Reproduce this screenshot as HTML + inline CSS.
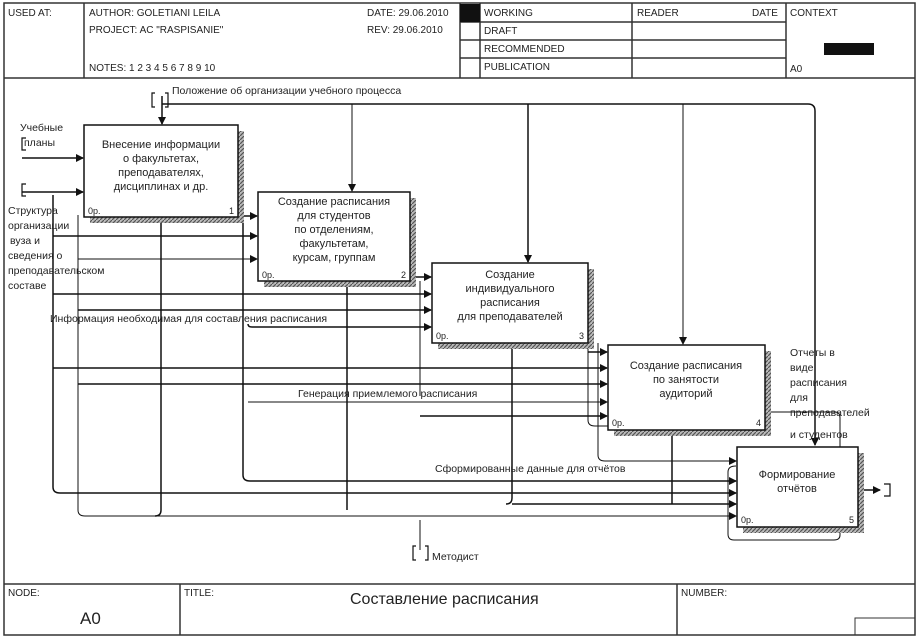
<!DOCTYPE html>
<html><head><meta charset="utf-8"><style>
html,body{margin:0;padding:0;background:#fff}
svg{display:block}
text{font-family:"Liberation Sans","DejaVu Sans",sans-serif;fill:#222}
</style></head><body>
<svg width="920" height="640" viewBox="0 0 920 640" xmlns="http://www.w3.org/2000/svg">
<defs>
<marker id="a" markerWidth="8" markerHeight="8" refX="7" refY="4" orient="auto" markerUnits="userSpaceOnUse"><path d="M0,0 L8,4 L0,8 z" fill="#111"/></marker>
<pattern id="h" width="4" height="4" patternUnits="userSpaceOnUse"><rect width="4" height="4" fill="#bbb"/><path d="M0,4 L4,0" stroke="#555" stroke-width="1.2"/></pattern>
</defs>
<rect x="0" y="0" width="920" height="640" fill="#fff"/>
<!-- frame -->
<g stroke="#333" fill="none" stroke-width="1.5">
<rect x="4" y="3" width="911" height="632"/>
<line x1="4" y1="78" x2="915" y2="78"/>
<line x1="4" y1="584" x2="915" y2="584"/>
<line x1="84" y1="3" x2="84" y2="78"/>
<line x1="460" y1="3" x2="460" y2="78"/>
<line x1="480" y1="3" x2="480" y2="78"/>
<line x1="632" y1="3" x2="632" y2="78"/>
<line x1="786" y1="3" x2="786" y2="78"/>
<line x1="460" y1="22" x2="786" y2="22"/>
<line x1="460" y1="40" x2="786" y2="40"/>
<line x1="460" y1="58" x2="786" y2="58"/>
<line x1="180" y1="584" x2="180" y2="635"/>
<line x1="677" y1="584" x2="677" y2="635"/>
<rect x="855" y="618" width="60" height="17" stroke-width="1"/>
</g>
<rect x="460" y="4" width="20" height="18" fill="#111"/>
<rect x="824" y="43" width="50" height="12" fill="#111"/>
<g font-size="10">
<text x="8" y="16">USED AT:</text>
<text x="89" y="16">AUTHOR:  GOLETIANI LEILA</text>
<text x="89" y="33">PROJECT:  AC "RASPISANIE"</text>
<text x="367" y="16">DATE: 29.06.2010</text>
<text x="367" y="33">REV:  29.06.2010</text>
<text x="89" y="71">NOTES:  1 2 3 4 5 6 7 8 9 10</text>
<text x="484" y="16">WORKING</text>
<text x="484" y="34">DRAFT</text>
<text x="484" y="52">RECOMMENDED</text>
<text x="484" y="70">PUBLICATION</text>
<text x="637" y="16">READER</text>
<text x="752" y="16">DATE</text>
<text x="790" y="16">CONTEXT</text>
<text x="790" y="72">A0</text>
<text x="8" y="596">NODE:</text>
<text x="184" y="596">TITLE:</text>
<text x="681" y="596">NUMBER:</text>
</g>
<text x="80" y="624" font-size="17">A0</text>
<text x="350" y="604" font-size="16">Составление расписания</text>

<!-- connectors -->
<g stroke="#111" fill="none" stroke-width="1.5">
<!-- control top -->
<path d="M162,104 H808 Q815,104 815,111 V445" marker-end="url(#a)"/>
<line x1="162" y1="96" x2="162" y2="124" marker-end="url(#a)"/>
<line x1="352" y1="104" x2="352" y2="191" stroke-width="1" marker-end="url(#a)"/>
<line x1="528" y1="104" x2="528" y2="262" marker-end="url(#a)"/>
<line x1="683" y1="104" x2="683" y2="344" stroke-width="1" marker-end="url(#a)"/>
<!-- inputs box1 -->
<line x1="22" y1="158" x2="83" y2="158" marker-end="url(#a)"/>
<line x1="22" y1="192" x2="83" y2="192" marker-end="url(#a)"/>
<!-- left verticals -->
<path d="M53,195 V487 Q53,493 60,493 H736" marker-end="url(#a)"/>
<path d="M78,215 V510 Q78,516 85,516 H736" marker-end="url(#a)" stroke-width="1"/>
<!-- into box2 -->
<line x1="238" y1="216" x2="257" y2="216" marker-end="url(#a)"/>
<line x1="53" y1="236" x2="257" y2="236" marker-end="url(#a)"/>
<line x1="78" y1="259" x2="257" y2="259" marker-end="url(#a)" stroke-width="1"/>
<!-- into box3 -->
<line x1="410" y1="277" x2="431" y2="277" marker-end="url(#a)"/>
<line x1="53" y1="294" x2="431" y2="294" marker-end="url(#a)"/>
<line x1="78" y1="310" x2="431" y2="310" marker-end="url(#a)"/>
<path d="M248,324 Q248,327 252,327 H431" marker-end="url(#a)"/>
<!-- into box4 -->
<line x1="588" y1="352" x2="607" y2="352" marker-end="url(#a)"/>
<line x1="53" y1="368" x2="607" y2="368" marker-end="url(#a)"/>
<line x1="78" y1="384" x2="607" y2="384" marker-end="url(#a)"/>
<line x1="248" y1="402" x2="607" y2="402" stroke-width="1" marker-end="url(#a)"/>
<line x1="420" y1="416" x2="607" y2="416" marker-end="url(#a)"/>
<!-- box1 outputs vertical -->
<path d="M161,217 V510 Q161,516 155,516"/>
<path d="M243,217 V475 Q243,481 250,481 H736" marker-end="url(#a)"/>
<path d="M347,281 V510"/>
<path d="M420,281 V396" stroke-width="1"/>
<path d="M588,343 V420 Q588,426 595,426 H736" marker-end="url(#a)" stroke-width="1"/>
<path d="M512,343 V498 Q512,504 506,504 M512,504 H736" marker-end="url(#a)"/>
<path d="M672,430 V504"/>
<path d="M598,343 V455 Q598,461 605,461 H736" marker-end="url(#a)" stroke-width="1"/>
<!-- output right of box4 -->
<path d="M765,412 H835 Q840,412 840,418 V535 Q840,540 834,540 H734 Q728,540 728,534 V472 Q728,466 736,466" stroke-width="1"/>
<!-- final output -->
<line x1="858" y1="490" x2="880" y2="490" marker-end="url(#a)"/>
<!-- mechanism -->
<line x1="420" y1="520" x2="420" y2="550" stroke-width="1"/>
</g>
<g stroke="#111" stroke-width="1.2" fill="none">
<path d="M155,93 h-3 v14 h3 M165,93 h3 v14 h-3"/>
<path d="M26,138 h-4 v12 h4 M26,184 h-4 v12 h4"/>
<path d="M416,546 h-3 v14 h3 M425,546 h3 v14 h-3"/>
<path d="M884,484 h6 v12 h-6"/>
</g>

<!-- boxes with hatched shadows -->
<g>
<rect x="238" y="131" width="6" height="92" fill="url(#h)"/><rect x="90" y="217" width="154" height="6" fill="url(#h)"/>
<rect x="410" y="198" width="6" height="89" fill="url(#h)"/><rect x="264" y="281" width="152" height="6" fill="url(#h)"/>
<rect x="588" y="269" width="6" height="80" fill="url(#h)"/><rect x="438" y="343" width="156" height="6" fill="url(#h)"/>
<rect x="765" y="351" width="6" height="85" fill="url(#h)"/><rect x="614" y="430" width="157" height="6" fill="url(#h)"/>
<rect x="858" y="453" width="6" height="80" fill="url(#h)"/><rect x="743" y="527" width="121" height="6" fill="url(#h)"/>
</g>
<g stroke="#111" stroke-width="1.5" fill="#fff">
<rect x="84" y="125" width="154" height="92"/>
<rect x="258" y="192" width="152" height="89"/>
<rect x="432" y="263" width="156" height="80"/>
<rect x="608" y="345" width="157" height="85"/>
<rect x="737" y="447" width="121" height="80"/>
</g>
<g font-size="11" text-anchor="middle">
<text x="161" y="148">Внесение информации</text>
<text x="161" y="162">о факультетах,</text>
<text x="161" y="176">преподавателях,</text>
<text x="161" y="190">дисциплинах и др.</text>
<text x="334" y="205">Создание расписания</text>
<text x="334" y="219">для студентов</text>
<text x="334" y="233">по отделениям,</text>
<text x="334" y="247">факультетам,</text>
<text x="334" y="261">курсам, группам</text>
<text x="510" y="278">Создание</text>
<text x="510" y="292">индивидуального</text>
<text x="510" y="306">расписания</text>
<text x="510" y="320">для преподавателей</text>
<text x="686" y="369">Создание расписания</text>
<text x="686" y="383">по занятости</text>
<text x="686" y="397">аудиторий</text>
<text x="797" y="478">Формирование</text>
<text x="797" y="492">отчётов</text>
</g>
<g font-size="9">
<text x="88" y="214">0р.</text><text x="229" y="214">1</text>
<text x="262" y="278">0р.</text><text x="401" y="278">2</text>
<text x="436" y="339">0р.</text><text x="579" y="339">3</text>
<text x="612" y="426">0р.</text><text x="756" y="426">4</text>
<text x="741" y="523">0р.</text><text x="849" y="523">5</text>
</g>
<g font-size="10.5" fill="#444">
<text x="172" y="94" fill="#444">Положение об организации учебного процесса</text>
<text x="20" y="131" fill="#444">Учебные</text>
<text x="24" y="146" fill="#444">планы</text>
<text x="8" y="214" fill="#444">Структура</text>
<text x="8" y="229" fill="#444">организации</text>
<text x="10" y="244" fill="#444">вуза и</text>
<text x="8" y="259" fill="#444">сведения о</text>
<text x="8" y="274" fill="#444">преподавательском</text>
<text x="8" y="289" fill="#444">составе</text>
<text x="50" y="322" fill="#333">Информация необходимая для составления расписания</text>
<text x="298" y="397" fill="#333">Генерация приемлемого расписания</text>
<text x="435" y="472" fill="#333">Сформированные данные для отчётов</text>
<text x="790" y="356" fill="#444">Отчеты в</text>
<text x="790" y="371" fill="#444">виде</text>
<text x="790" y="386" fill="#444">расписания</text>
<text x="790" y="401" fill="#444">для</text>
<text x="790" y="416" fill="#444">преподавателей</text>
<text x="790" y="438" fill="#444">и студентов</text>
<text x="432" y="560" fill="#444">Методист</text>
</g>
</svg>
</body></html>
